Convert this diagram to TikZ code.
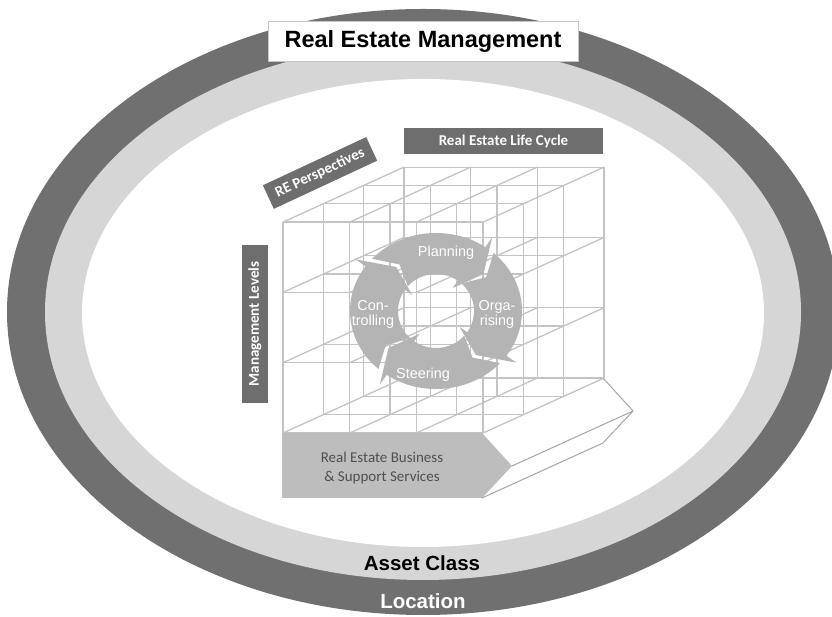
\documentclass[tikz,border=0pt]{standalone}
\usepackage{fontspec}
\setmainfont{Liberation Sans}
\newfontfamily\calibri{Carlito}
\usepackage{xcolor}
\usepackage{tikz}
\usetikzlibrary{calc, positioning, shapes.geometric}

\definecolor{ringdark}{HTML}{707070}
\definecolor{ringlight}{HTML}{D6D6D6}
\definecolor{boxdark}{HTML}{6E6E6E}
\definecolor{gridgray}{HTML}{C4C4C4}
\definecolor{cycgray}{HTML}{B4B4B4}
\definecolor{arrowgray}{HTML}{BDBDBD}
\definecolor{edgegray}{HTML}{A6A6A6}
\definecolor{textgray}{HTML}{505050}

\tikzset{
  darkbox/.style={fill=boxdark, text=white, inner sep=0pt, minimum height=26pt,
    font=\calibri\bfseries\fontsize{15}{18}\selectfont},
  cyclabel/.style={text=white, align=center, font=\fontsize{14.4}{15}\selectfont},
  ringlabel/.style={font=\bfseries\fontsize{20.5}{24}\selectfont},
  gridline/.style={draw=gridgray, line width=1.3pt},
}

% one segment of the cycle, #1 = angle of its middle
\newcommand{\cyclearrow}[1]{%
  \fill[cycgray] (#1+48:86pt and 78pt)
    arc[start angle=#1+48, end angle=#1-35, x radius=86pt, y radius=78pt]
    -- (#1-35:98pt and 90pt) -- (#1-50:62pt and 57.5pt) -- (#1-35:29pt and 28pt)
    -- (#1-35:38pt and 37pt)
    arc[start angle=#1-35, end angle=#1+48, x radius=38pt, y radius=37pt]
    -- (#1+36:62pt and 57.5pt) -- cycle;}

\begin{document}
\begin{tikzpicture}[x=1pt, y=1pt]
  \useasboundingbox (0,0) rectangle (832,617);
  \clip (0,0) rectangle (832,617);
  \fill[white] (0,0) rectangle (832,617);

  % rings
  \fill[ringdark] (423,305) ellipse[x radius=416pt, y radius=303pt];
  \fill[ringlight] (423,305) ellipse[x radius=378pt, y radius=268pt];
  \fill[white] (423,304) ellipse[x radius=341pt, y radius=234pt];

  \node[draw=gray!45, fill=white, minimum width=310pt, minimum height=40pt,
    font=\bfseries\fontsize{23.5}{28}\selectfont] (title) at (423,576) {Real Estate Management};
  \node[ringlabel] (asset) at (422,54) {Asset Class};
  \node[ringlabel, text=white] (location) at (423,16) {Location};

  % cube
  \coordinate (cube) at (283,184);
  \foreach \i in {0,...,3}
    \foreach \k in {0,...,3} {
      \draw[gridline] ($(cube)+(\i*66.7+\k*40.3,\k*18.3)$) -- ++(0,211);
      \draw[gridline] ($(cube)+(\k*40.3,\i*70.3+\k*18.3)$) -- ++(200,0);
      \draw[gridline] ($(cube)+(\i*66.7,\k*70.3)$) -- ++(121,55);
    }

  % services arrow
  \fill[arrowgray] (282,184) -- (482,184) -- (512,151) -- (482,119) -- (282,119) -- cycle;
  \draw[edgegray, line width=1pt] (603,239) -- (633,206) -- (603,174) -- (482,119);
  \draw[edgegray, line width=1pt] (512,151) -- (633,206);
  \node[text=textgray, align=center, font=\calibri\fontsize{15}{19}\selectfont]
    (services) at (382,149) {Real Estate Business\\\& Support Services};

  % cycle
  \begin{scope}[shift={(436,306)}]
    \foreach \a in {90,0,270,180} {
      \cyclearrow{\a}
    }
  \end{scope}
  \node[cyclabel] (planning) at (446,364) {Planning};
  \node[cyclabel] (organising) at (497,303) {Orga-\\rising};
  \node[cyclabel] (steering) at (423,242) {Steering};
  \node[cyclabel] (controlling) at (373,303) {Con-\\trolling};

  % dimension labels
  \node[darkbox, minimum width=199pt] (lifecycle) at (503.5,476) {Real Estate Life Cycle};
  \node[darkbox, rotate=25, minimum width=114pt] (persp) at (320,444) {RE Perspectives};
  \node[darkbox, rotate=90, minimum width=158pt] (levels) at (255,293) {Management Levels};
\end{tikzpicture}
\end{document}
